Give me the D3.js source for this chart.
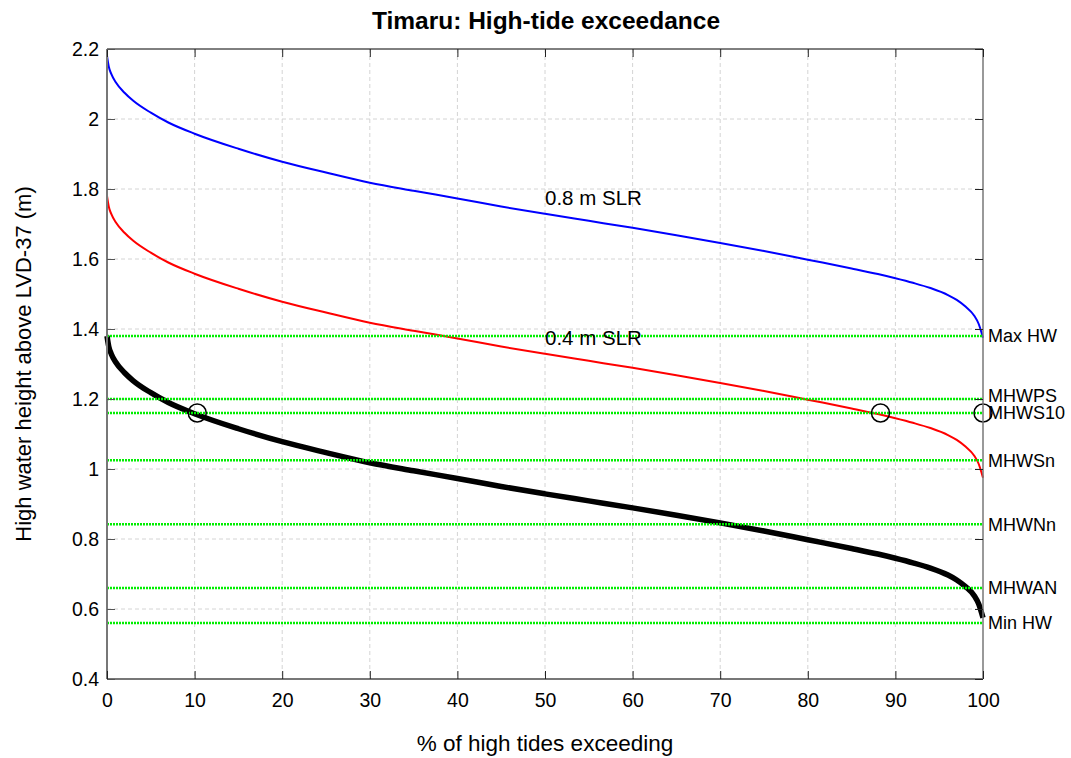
<!DOCTYPE html>
<html>
<head>
<meta charset="utf-8">
<script src="https://cdn.jsdelivr.net/npm/d3@7"></script>
<style>
  body { margin: 0; background: #fff; }
  svg text { font-family: "Liberation Sans", Arial, sans-serif; fill: #000; }
</style>
</head>
<body>
<div id="chart"></div>
<script>
// % of high tides exceeding (x) and high water heights (m)
const pct = [0, 0.2, 0.5, 1, 2, 3, 5, 7, 10, 15, 20, 25, 30, 35, 40, 45, 50, 55, 60, 65, 70, 75, 80, 85, 88, 90, 92, 94, 96, 97, 98, 99, 99.5, 100];
const present = [1.38, 1.35, 1.328, 1.305, 1.275, 1.252, 1.218, 1.19, 1.158, 1.115, 1.078, 1.047, 1.018, 0.995, 0.973, 0.950, 0.929, 0.909, 0.889, 0.868, 0.846, 0.823, 0.798, 0.773, 0.757, 0.745, 0.732, 0.717, 0.697, 0.683, 0.664, 0.638, 0.615, 0.575];
const slr04 = [1.78, 1.75, 1.728, 1.705, 1.675, 1.652, 1.618, 1.59, 1.558, 1.515, 1.478, 1.447, 1.418, 1.395, 1.373, 1.350, 1.329, 1.309, 1.289, 1.268, 1.246, 1.223, 1.198, 1.173, 1.157, 1.145, 1.132, 1.117, 1.097, 1.083, 1.064, 1.038, 1.015, 0.975];
const slr08 = [2.18, 2.15, 2.128, 2.105, 2.075, 2.052, 2.018, 1.99, 1.958, 1.915, 1.878, 1.847, 1.818, 1.795, 1.773, 1.750, 1.729, 1.709, 1.689, 1.668, 1.646, 1.623, 1.598, 1.573, 1.557, 1.545, 1.532, 1.517, 1.497, 1.483, 1.464, 1.438, 1.415, 1.375];

// tidal levels (green dotted lines)
const levelNames = ["Max HW", "MHWPS", "MHWS10", "MHWSn", "MHWNn", "MHWAN", "Min HW"];
const levelValues = [1.38, 1.20, 1.16, 1.025, 0.842, 0.66, 0.56];

// circles marking where each curve hits MHWS10
const markerX = [10.3, 88.3, 100];
const markerY = [1.16, 1.16, 1.16];

// curve annotations
const noteText = ["0.8 m SLR", "0.4 m SLR"];
const noteX = [50, 50];
const noteY = [1.775, 1.375];

const xTicks = [0, 10, 20, 30, 40, 50, 60, 70, 80, 90, 100];
const yTicks = [0.4, 0.6, 0.8, 1, 1.2, 1.4, 1.6, 1.8, 2, 2.2];

const W = 1071, H = 758;
const m = { left: 107, right: 88, top: 49, bottom: 79 };
const pw = W - m.left - m.right, ph = H - m.top - m.bottom;

const svg = d3.select('#chart').append('svg')
  .attr('width', W)
  .attr('height', H);

const g = svg.append('g').attr('transform', `translate(${m.left},${m.top})`);

const x = d3.scaleLinear().domain([0, 100]).range([0, pw]);
const y = d3.scaleLinear().domain([0.4, 2.2]).range([ph, 0]);

// grid
g.append('g').selectAll('line')
  .data(xTicks.slice(1, -1))
  .enter().append('line')
  .attr('x1', d => x(d)).attr('x2', d => x(d))
  .attr('y1', 0).attr('y2', ph)
  .attr('stroke', '#d4d4d4').attr('stroke-dasharray', '4,3');
g.append('g').selectAll('line')
  .data(yTicks.slice(1, -1))
  .enter().append('line')
  .attr('x1', 0).attr('x2', pw)
  .attr('y1', d => y(d)).attr('y2', d => y(d))
  .attr('stroke', '#d4d4d4').attr('stroke-dasharray', '4,3');

// curves
const series = [
  { vals: slr08, color: '#0000ff', width: 2 },
  { vals: slr04, color: '#ff0000', width: 2 },
  { vals: present, color: '#000000', width: 5.5 }
];
const line = d3.line().curve(d3.curveMonotoneX);
series.forEach(s => {
  g.append('path')
    .attr('d', line(pct.map((p, i) => [x(p), y(s.vals[i])])))
    .attr('fill', 'none')
    .attr('stroke', s.color)
    .attr('stroke-width', s.width);
});

// tidal level lines + labels
levelValues.forEach((v, i) => {
  g.append('line')
    .attr('x1', 0).attr('x2', pw)
    .attr('y1', y(v)).attr('y2', y(v))
    .attr('stroke', '#00ee00')
    .attr('stroke-width', 2.5)
    .attr('stroke-dasharray', '2,1');
});
levelValues.forEach((v, i) => {
  g.append('text')
    .attr('x', pw + 5)
    .attr('y', y(v) + (levelNames[i] === 'MHWPS' ? -3 : 0))
    .attr('dy', '0.35em')
    .style('font-size', '18px')
    .text(levelNames[i]);
});

// circle markers
g.selectAll('circle.mk')
  .data(markerX)
  .enter().append('circle')
  .attr('cx', d => x(d))
  .attr('cy', (d, i) => y(markerY[i]))
  .attr('r', 9)
  .attr('fill', 'none')
  .attr('stroke', '#000')
  .attr('stroke-width', 1.5);

// annotations
noteText.forEach((t, i) => {
  g.append('text')
    .attr('x', x(noteX[i]))
    .attr('y', y(noteY[i]))
    .attr('dy', '0.35em')
    .style('font-size', '20.5px')
    .text(t);
});

// axis frame
g.append('line').attr('x1', 0).attr('x2', pw).attr('y1', 0).attr('y2', 0)
  .attr('stroke', '#000').attr('stroke-width', 1);
g.append('line').attr('x1', pw).attr('x2', pw).attr('y1', 0).attr('y2', ph)
  .attr('stroke', '#777').attr('stroke-width', 1.5);
g.append('line').attr('x1', 0).attr('x2', 0).attr('y1', 0).attr('y2', ph)
  .attr('stroke', '#777').attr('stroke-width', 2);
g.append('line').attr('x1', 0).attr('x2', pw).attr('y1', ph).attr('y2', ph)
  .attr('stroke', '#777').attr('stroke-width', 2);

// axes with inward ticks
const xAxis = g.append('g').attr('transform', `translate(0,${ph})`)
  .call(d3.axisBottom(x).tickValues(xTicks).tickSizeInner(-8).tickSizeOuter(0).tickPadding(14));
const xTop = g.append('g')
  .call(d3.axisTop(x).tickValues(xTicks).tickSizeInner(-8).tickSizeOuter(0).tickFormat(''));
const yAxis = g.append('g')
  .call(d3.axisLeft(y).tickValues(yTicks).tickSizeInner(-8).tickSizeOuter(0).tickPadding(8).tickFormat(d3.format('~g')));
const yRight = g.append('g').attr('transform', `translate(${pw},0)`)
  .call(d3.axisRight(y).tickValues(yTicks).tickSizeInner(-8).tickSizeOuter(0).tickFormat(''));

[xAxis, xTop, yAxis, yRight].forEach(a => {
  a.select('.domain').remove();
  a.selectAll('line').attr('stroke', '#222');
  a.selectAll('text').style('font-size', '19.5px').attr('fill', '#000')
    .style('font-family', '"Liberation Sans", Arial, sans-serif');
});
yAxis.selectAll('line').attr('stroke', '#555');

// title and axis labels
svg.append('text')
  .attr('x', m.left + pw / 2 + 1).attr('y', 29)
  .attr('text-anchor', 'middle')
  .style('font-size', '24.5px').style('font-weight', 'bold')
  .text('Timaru: High-tide exceedance');

svg.append('text')
  .attr('x', m.left + pw / 2).attr('y', 751)
  .attr('text-anchor', 'middle')
  .style('font-size', '22.5px')
  .text('% of high tides exceeding');

svg.append('text')
  .attr('transform', `translate(31,${m.top + ph / 2}) rotate(-90)`)
  .attr('text-anchor', 'middle')
  .style('font-size', '22px')
  .text('High water height above LVD-37 (m)');
</script>
</body>
</html>
